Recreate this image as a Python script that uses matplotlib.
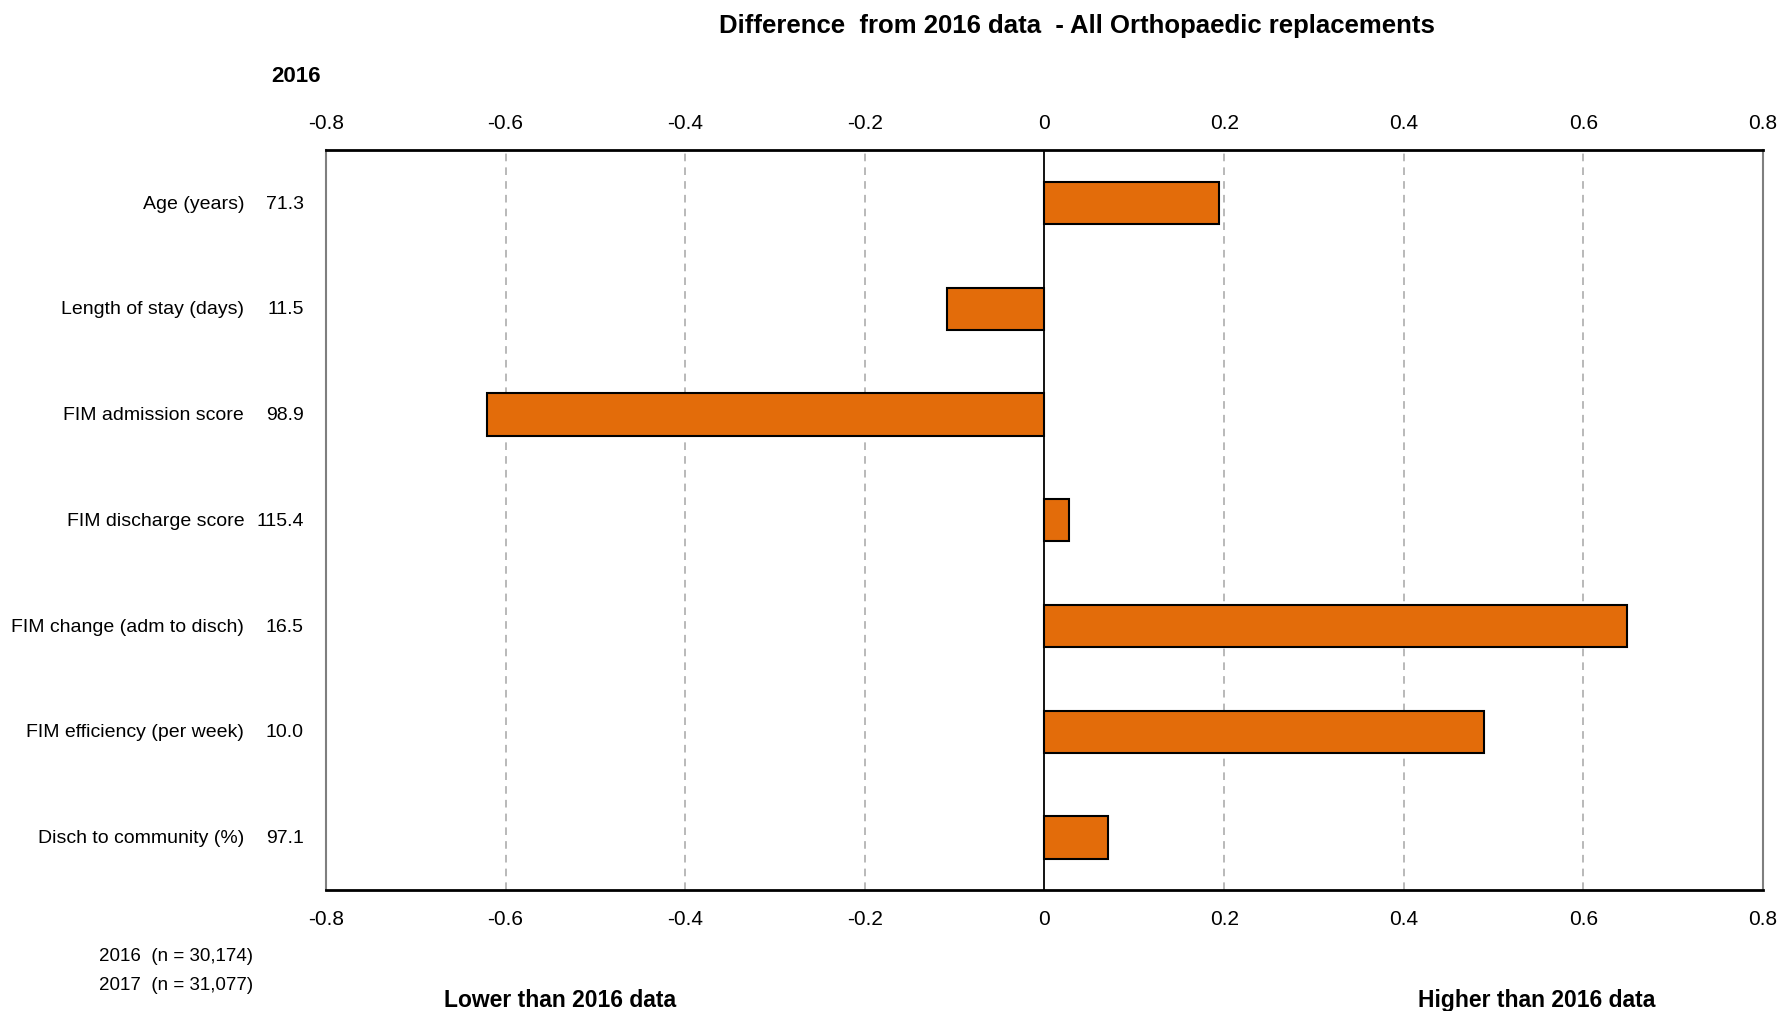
import matplotlib
matplotlib.use("Agg")
import matplotlib.pyplot as plt
import numpy as np

plt.rcParams["font.family"] = ["Liberation Sans", "DejaVu Sans"]

# ---- data ----
categories = [
    "Age (years)",
    "Length of stay (days)",
    "FIM admission score",
    "FIM discharge score",
    "FIM change (adm to disch)",
    "FIM efficiency (per week)",
    "Disch to community (%)",
]
values_2016 = ["71.3", "11.5", "98.9", "115.4", "16.5", "10.0", "97.1"]
diff_from_2016 = [0.194, -0.108, -0.621, 0.027, 0.648, 0.489, 0.071]
xticks = [-0.8, -0.6, -0.4, -0.2, 0, 0.2, 0.4, 0.6, 0.8]
xtick_labels = ["-0.8", "-0.6", "-0.4", "-0.2", "0", "0.2", "0.4", "0.6", "0.8"]
n_notes = ["2016  (n = 30,174)", "2017  (n = 31,077)"]

BAR_COLOR = "#E36C0A"
LABEL_FS = 14

fig = plt.figure(figsize=(17.85, 10.12), dpi=100)
ax = fig.add_axes([0.1826, 0.1192, 0.8051, 0.7313])

y = np.arange(len(categories))
ax.barh(y, diff_from_2016, height=0.40, color=BAR_COLOR,
        edgecolor="black", linewidth=1.5, zorder=3)

ax.set_xlim(-0.8, 0.8)
ax.set_ylim(len(categories) - 0.5, -0.5)

# grid lines (dashed) and zero line
for t in xticks[1:-1]:
    if t == 0:
        ax.axvline(0, color="black", lw=1.3, zorder=4)
    else:
        ax.axvline(t, color="#A6A6A6", lw=1.1, ls=(0, (5, 4)), zorder=1)

ax.set_xticks(xticks)
ax.set_xticklabels(xtick_labels, fontsize=15)
ax.tick_params(axis="x", which="both", length=0, pad=13.5,
               top=True, labeltop=True, bottom=True, labelbottom=True)
ax.set_yticks([])

for side in ("top", "bottom"):
    ax.spines[side].set_linewidth(2.0)
    ax.spines[side].set_color("black")
for side in ("left", "right"):
    ax.spines[side].set_linewidth(1.5)
    ax.spines[side].set_color("#7F7F7F")

# category labels and 2016 values to the left of the plot
for yi, (cat, val) in enumerate(zip(categories, values_2016)):
    ax.text(-0.891, yi, cat, ha="right", va="center", fontsize=LABEL_FS,
            clip_on=False)
    ax.text(-0.8245, yi, val, ha="right", va="center", fontsize=LABEL_FS,
            clip_on=False)

fig.text(296 / 1785, 1 - 77 / 1012, "2016", ha="center", va="center",
         fontsize=16, fontweight="bold")
fig.text(1077 / 1785, 1 - 26 / 1012,
         "Difference  from 2016 data  - All Orthopaedic replacements",
         ha="center", va="center", fontsize=18.5, fontweight="bold")

fig.text(99 / 1785, 1 - 957 / 1012, n_notes[0], ha="left", va="center", fontsize=13.5)
fig.text(99 / 1785, 1 - 986 / 1012, n_notes[1], ha="left", va="center", fontsize=13.5)

fig.text(560 / 1785, 1 - 1001 / 1012, "Lower than 2016 data", ha="center",
         va="center", fontsize=16.5, fontweight="bold")
fig.text(1537 / 1785, 1 - 1001 / 1012, "Higher than 2016 data", ha="center",
         va="center", fontsize=16.5, fontweight="bold")

fig.savefig("out.png", dpi=100)
